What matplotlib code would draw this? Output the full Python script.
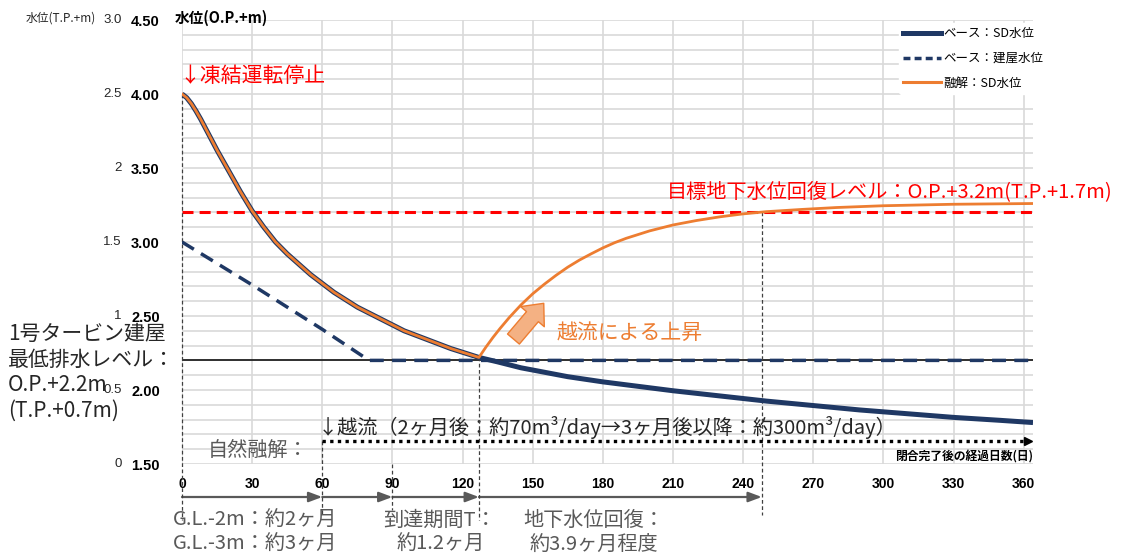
import numpy as np
import matplotlib
matplotlib.use("Agg")
import matplotlib.pyplot as plt
import matplotlib.transforms as mtransforms
from matplotlib.patches import FancyArrowPatch
from matplotlib.lines import Line2D

plt.rcParams['font.family'] = ['Noto Sans CJK JP', 'DejaVu Sans']

# --- data ---
# base case: SD water level (O.P.+m), until the overflow point
decay_days = [0, 2, 4, 6, 8, 10, 12, 15, 20, 25, 30, 35, 40, 45, 50, 55, 60, 65, 70, 75, 80,
              85, 90, 95, 100, 105, 110, 115, 120, 127]
decay_sd = [4.00, 3.975, 3.935, 3.885, 3.83, 3.77, 3.71, 3.62, 3.48, 3.34, 3.21, 3.10, 3.00,
            2.92, 2.85, 2.78, 2.72, 2.66, 2.61, 2.56, 2.52, 2.48, 2.44, 2.40, 2.37, 2.34, 2.31,
            2.28, 2.255, 2.22]

# base case after day 127
base_tail_days = [135, 145, 155, 165, 180, 195, 210, 230, 250, 270, 290, 310, 330, 350, 364]
base_tail_sd = [2.19, 2.15, 2.12, 2.09, 2.055, 2.025, 1.995, 1.96, 1.925, 1.895, 1.865, 1.84,
                1.815, 1.795, 1.78]

# melting case after day 127 (rise by overflow)
melt_tail_days = [130, 133, 136, 140, 145, 150, 155, 160, 165, 170, 175, 180, 185, 190, 200,
                  210, 220, 230, 240, 250, 265, 280, 300, 330, 364]
melt_tail_sd = [2.29, 2.355, 2.415, 2.49, 2.575, 2.65, 2.715, 2.775, 2.83, 2.878, 2.92, 2.96,
                2.995, 3.025, 3.075, 3.115, 3.145, 3.17, 3.19, 3.205, 3.22, 3.233, 3.245, 3.255,
                3.26]

base_days = decay_days + base_tail_days
base_sd = decay_sd + base_tail_sd
melt_days = decay_days + melt_tail_days
melt_sd = decay_sd + melt_tail_sd

# base case: building water level
bldg_days = [0, 30, 60, 80, 364]
bldg_level = [3.00, 2.71, 2.41, 2.20, 2.20]

min_drain = 2.2      # 1号タービン建屋 最低排水レベル
target = 3.2         # 目標地下水位回復レベル
overflow_day = 60
milestones = [0, 60, 90, 127, 248]

op_ticks = [1.5, 2.0, 2.5, 3.0, 3.5, 4.0, 4.5]
tp_labels = ['0', '0.5', '1', '1.5', '2', '2.5', '3.0']
day_ticks = list(range(0, 361, 30))

navy = '#1f3864'
orange = '#ed7d31'
gray = '#595959'

W, H = 1123, 559
fig = plt.figure(figsize=(W / 100, H / 100), dpi=100)
ax = fig.add_axes([182 / W, 1 - 464 / H, (1033 - 182) / W, (464 - 20) / H])
ax.set_xlim(0, 364)
ax.set_ylim(1.5, 4.5)

ax.set_xticks(day_ticks)
ax.set_xticklabels([str(d) for d in day_ticks], fontweight='bold', fontsize=10,
                   family=['Liberation Sans Narrow', 'Liberation Sans', 'DejaVu Sans'])
ax.set_yticks(op_ticks)
ax.set_yticklabels(['%.2f' % v for v in op_ticks], fontweight='bold', fontsize=10.5,
                   family=['Liberation Sans', 'DejaVu Sans'])
ax.set_yticks(np.arange(1.5, 4.51, 0.1), minor=True)
ax.tick_params(axis='both', which='both', length=0)
ax.tick_params(axis='x', pad=9)
ax.tick_params(axis='y', pad=16)
ax.grid(True, which='both', color='#d9d9d9', lw=1.2)
ax.set_axisbelow(True)
for s in ax.spines.values():
    s.set_visible(False)

# secondary T.P. labels
trans = mtransforms.blended_transform_factory(ax.transAxes, ax.transData)
for v, lab in zip(op_ticks, tp_labels):
    ax.text(-0.071, v, lab, transform=trans, ha='right', va='center', fontsize=9.5,
            family=['Liberation Sans', 'DejaVu Sans'], color='#262626')
fig.text(26 / W, 1 - 18 / H, '水位(T.P.+m)', ha='left', va='center', fontsize=8.5, color='#262626')
fig.text(175 / W, 1 - 18 / H, '水位(O.P.+m)', ha='left', va='center', fontsize=10.5,
         fontweight='bold')

# reference lines
ax.plot([0, 364], [min_drain, min_drain], color='black', lw=1.1, zorder=2)
ax.plot([0, 364], [target, target], color='#ff0000', lw=2.2, dashes=(3.6, 2.0), zorder=3)

# vertical dashed markers
vl = dict(color='#404040', lw=0.9, dashes=(3, 2), clip_on=False, zorder=4)
ax.plot([milestones[0]] * 2, [4.0, 1.12], **vl)
ax.plot([milestones[1]] * 2, [1.655, 1.15], **vl)
ax.plot([milestones[2]] * 2, [1.5, 1.19], **vl)
ax.plot([milestones[3]] * 2, [2.22, 1.12], **vl)
ax.plot([milestones[4]] * 2, [target, 1.155], **vl)

# series
ax.plot(bldg_days, bldg_level, color=navy, lw=2.5, dashes=(4, 2.4), zorder=5,
        label='ベース：建屋水位')
ax.plot(base_days, base_sd, color=navy, lw=3.6, zorder=6, label='ベース：SD水位',
        solid_capstyle='butt', solid_joinstyle='round')
ax.plot(melt_days, melt_sd, color=orange, lw=2.0, zorder=7, label='融解：SD水位',
        solid_joinstyle='round')

# legend
handles = [Line2D([], [], color=navy, lw=3.6),
           Line2D([], [], color=navy, lw=2.5, dashes=(2, 1.2)),
           Line2D([], [], color=orange, lw=2.2)]
fig.legend(handles, ['ベース：SD水位', 'ベース：建屋水位', '融解：SD水位'],
           loc='upper left', bbox_to_anchor=(893 / W, 1 - 17 / H), frameon=True,
           facecolor='white', edgecolor='white', framealpha=1, fontsize=9,
           handlelength=3.0, handletextpad=0.2, labelspacing=0.95, borderpad=0.3)

# annotations
ax.text(-1, 4.12, '↓凍結運転停止', color='#ff0000', fontsize=15, ha='left', va='center')
ax.text(398, 3.338, '目標地下水位回復レベル：O.P.+3.2m(T.P.+1.7m)', color='#ff0000',
        fontsize=14.5, ha='right', va='center', clip_on=False)
ax.text(160.4, 2.385, '越流による上昇', color=orange, fontsize=15, ha='left', va='center')
ax.add_patch(FancyArrowPatch((141.0, 2.33), (155.5, 2.6),
                             arrowstyle='simple,head_width=1.6,head_length=0.9,tail_width=0.8',
                             mutation_scale=14, fc='#f4b183', ec=orange, lw=1.0, zorder=8))

left_lines = ['1号タービン建屋', '最低排水レベル：', 'O.P.+2.2m', '(T.P.+0.7m)']
for i, line in enumerate(left_lines):
    fig.text(8 / W, 1 - (334 + 25.5 * i) / H, line, fontsize=15, ha='left', va='center',
             color='#262626')

ax.text(overflow_day - 2, 1.745,
        '↓越流（2ヶ月後：約70m³/day→3ヶ月後以降：約300m³/day）',
        fontsize=14.5, ha='left', va='center', color='#262626')
ax.text(11, 1.59, '自然融解：', fontsize=14.5, ha='left', va='center', color=gray)
ax.plot([overflow_day, 361], [1.655, 1.655], color='black', lw=2.4, ls=(0, (1, 1.3)),
        zorder=5, clip_on=False)
ax.plot([362], [1.655], marker='>', color='black', ms=6, zorder=5, clip_on=False)
ax.text(364, 1.547, '閉合完了後の経過日数(日)', fontsize=8.5, fontweight='bold',
        ha='right', va='center')

# period arrows under the axis
for a, b in zip(milestones[:-1], milestones[1:]):
    ax.annotate('', xy=(b, 1.277), xytext=(a, 1.277), annotation_clip=False,
                arrowprops=dict(arrowstyle='-|>,head_length=0.8,head_width=0.3', color=gray,
                                lw=1.6, shrinkA=0, shrinkB=0))

bottom = [(173, 520, 'G.L.-2m：約2ヶ月'), (173, 544, 'G.L.-3m：約3ヶ月'),
          (383, 520, '到達期間T：'), (397, 544, '約1.2ヶ月'),
          (523, 520, '地下水位回復：'), (530, 544, '約3.9ヶ月程度')]
for x, y, s in bottom:
    fig.text(x / W, 1 - y / H, s, fontsize=14.5, ha='left', va='center', color=gray)

fig.savefig('out.png', dpi=100)
